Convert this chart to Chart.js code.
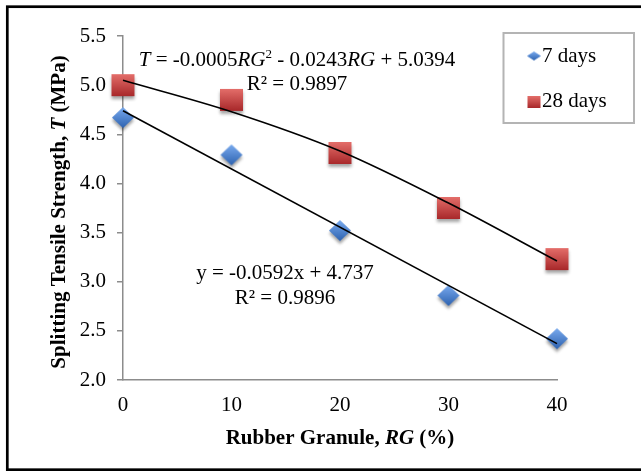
<!DOCTYPE html>
<html>
<head>
<meta charset="utf-8">
<title>Splitting tensile strength</title>
<script src="https://cdn.jsdelivr.net/npm/chart.js@4.4.0/dist/chart.umd.min.js"></script>
<style>
html,body{margin:0;padding:0;background:#fff;}
#chart{display:block;}
</style>
</head>
<body>
<canvas id="chart" width="641" height="471"></canvas>
<script>
// values
var rubber=[0,10,20,30,40];
var days7=[4.67,4.29,3.52,2.86,2.42];
var days28=[5.00,4.85,4.31,3.75,3.23];
var fit7X=[0,40];
var fit7Y=[4.74,2.37];
var fit28X=[0,10,20,30,40];
var fit28Y=[5.05,4.73,4.33,3.80,3.21];
var xTicks=[0,10,20,30,40];
var yTicks=[2.0,2.5,3.0,3.5,4.0,4.5,5.0,5.5];
var seriesNames=['7 days','28 days'];

var eq28=[{t:'T',i:1},{t:' = -0.0005'},{t:'RG',i:1},{t:'2',sup:1},{t:' - 0.0243'},{t:'RG',i:1},{t:' + 5.0394'}];
var r28=[{t:'R² = 0.9897'}];
var eq7=[{t:'y = -0.0592x + 4.737'}];
var r7=[{t:'R² = 0.9896'}];
var xTitle=[{t:'Rubber Granule, ',b:1},{t:'RG',b:1,i:1},{t:' (%)',b:1}];
var yTitle=[{t:'Splitting Tensile Strength, ',b:1},{t:'T',b:1,i:1},{t:' (MPa)',b:1}];

var SERIF='"Liberation Serif", "Times New Roman", serif';

function toPoints(xs, ys){
	var pts=[];
	for(var i=0; i<xs.length; i++){
		pts.push({x:xs[i], y:ys[i]});
	}
	return pts;
}

function makeMarker(shape, w, h, light, dark, shadow){
	var pad=6;
	var c=document.createElement('canvas');
	c.width=w+pad*2;
	c.height=h+pad*2;
	var ctx=c.getContext('2d');
	var cx=c.width/2, cy=c.height/2;
	var g=ctx.createLinearGradient(0,cy-h/2,0,cy+h/2);
	g.addColorStop(0,light);
	g.addColorStop(1,dark);
	if(shadow){
		ctx.shadowColor='rgba(0,0,0,0.35)';
		ctx.shadowBlur=3;
		ctx.shadowOffsetY=3;
	}
	ctx.beginPath();
	if(shape=='diamond'){
		ctx.moveTo(cx,cy-h/2);
		ctx.lineTo(cx+w/2,cy);
		ctx.lineTo(cx,cy+h/2);
		ctx.lineTo(cx-w/2,cy);
		ctx.closePath();
	}else{
		ctx.rect(cx-w/2,cy-h/2,w,h);
	}
	ctx.fillStyle=g;
	ctx.fill();
	return c;
}

var blueMark=makeMarker('diamond',22,21,'#79aaee','#2d62b0',true);
var redMark=makeMarker('square',23,22,'#e46e6a','#a8282a',true);
var blueSmall=makeMarker('diamond',14,9,'#79aaee','#2d62b0',false);
var redSmall=makeMarker('square',13,12,'#e46e6a','#a8282a',false);

function runFont(run, size){
	var s=run.sup ? Math.round(size*0.62) : size;
	return (run.i?'italic ':'')+(run.b?'bold ':'')+s+'px '+SERIF;
}
function drawRuns(ctx, runs, cx, baseline, size){
	var total=0;
	for(var i=0; i<runs.length; i++){
		ctx.font=runFont(runs[i],size);
		total+=ctx.measureText(runs[i].t).width;
	}
	var x=cx-total/2;
	ctx.textAlign='left';
	ctx.textBaseline='alphabetic';
	ctx.fillStyle='#000';
	for(var j=0; j<runs.length; j++){
		ctx.font=runFont(runs[j],size);
		ctx.fillText(runs[j].t, x, baseline-(runs[j].sup ? size*0.38 : 0));
		x+=ctx.measureText(runs[j].t).width;
	}
}

var extras={
	id:'extras',
	beforeDraw:function(chart){
		var ctx=chart.ctx;
		ctx.save();
		ctx.fillStyle='#fff';
		ctx.fillRect(0,0,chart.width,chart.height);
		ctx.restore();
	},
	afterDraw:function(chart){
		var ctx=chart.ctx;
		ctx.save();
		// outer frame
		ctx.strokeStyle='#000';
		ctx.lineWidth=2.7;
		ctx.strokeRect(7.3,6.7,660,463);
		// equations
		drawRuns(ctx, eq28, 297, 66, 21);
		drawRuns(ctx, r28, 297, 90, 21);
		drawRuns(ctx, eq7, 285, 279, 21);
		drawRuns(ctx, r7, 285, 304, 21);
		// axis titles
		drawRuns(ctx, xTitle, 340, 444, 21);
		ctx.save();
		ctx.translate(65,212);
		ctx.rotate(-Math.PI/2);
		drawRuns(ctx, yTitle, 0, 0, 21);
		ctx.restore();
		// legend
		ctx.strokeStyle='#b4b4b4';
		ctx.lineWidth=2;
		ctx.strokeRect(503.5,33,130.5,90);
		ctx.drawImage(blueSmall,534-blueSmall.width/2,56-blueSmall.height/2);
		ctx.drawImage(redSmall,534-redSmall.width/2,102-redSmall.height/2);
		ctx.font='21px '+SERIF;
		ctx.fillStyle='#000';
		ctx.textAlign='left';
		ctx.textBaseline='alphabetic';
		ctx.fillText(chart.data.datasets[2].label,542,62);
		ctx.fillText(chart.data.datasets[3].label,542,107);
		ctx.restore();
	}
};

var ctx=document.getElementById('chart');
var chart=new Chart(ctx,{
	type:'scatter',
	data:{
		datasets:[{
			label:'fit 7',
			data:toPoints(fit7X,fit7Y),
			showLine:true,
			pointRadius:0,
			borderColor:'#000',
			borderWidth:1.6,
			clip:false,
			order:0
		},{
			label:'fit 28',
			data:toPoints(fit28X,fit28Y),
			showLine:true,
			cubicInterpolationMode:'monotone',
			pointRadius:0,
			borderColor:'#000',
			borderWidth:1.6,
			clip:false,
			order:0
		},{
			label:seriesNames[0],
			data:toPoints(rubber,days7),
			pointStyle:blueMark,
			pointRadius:11,
			clip:false,
			order:1
		},{
			label:seriesNames[1],
			data:toPoints(rubber,days28),
			pointStyle:redMark,
			pointRadius:11,
			clip:false,
			order:1
		}]
	},
	options:{
		responsive:false,
		animation:false,
		layout:{padding:{left:0,right:84,top:36,bottom:0}},
		plugins:{
			legend:{display:false},
			tooltip:{enabled:false}
		},
		scales:{
			x:{
				type:'linear',
				min:0,
				max:40,
				afterBuildTicks:function(scale){
					scale.ticks=xTicks.map(function(v){return {value:v};});
				},
				afterFit:function(scale){ scale.height=91; },
				grid:{display:false,drawTicks:false},
				border:{display:true,color:'#8c8c8c',width:1.5},
				ticks:{
					padding:13,
					color:'#000',
					font:{family:SERIF,size:21}
				}
			},
			y:{
				type:'linear',
				min:2,
				max:5.5,
				afterBuildTicks:function(scale){
					scale.ticks=yTicks.map(function(v){return {value:v};});
				},
				afterFit:function(scale){ scale.width=123; },
				grid:{display:true,drawOnChartArea:false,drawTicks:true,tickLength:6,color:'#8c8c8c',lineWidth:1.5},
				border:{display:true,color:'#8c8c8c',width:1.5},
				ticks:{
					padding:11,
					color:'#000',
					font:{family:SERIF,size:21},
					callback:function(v){ return v.toFixed(1); }
				}
			}
		}
	},
	plugins:[extras]
});
</script>
</body>
</html>
